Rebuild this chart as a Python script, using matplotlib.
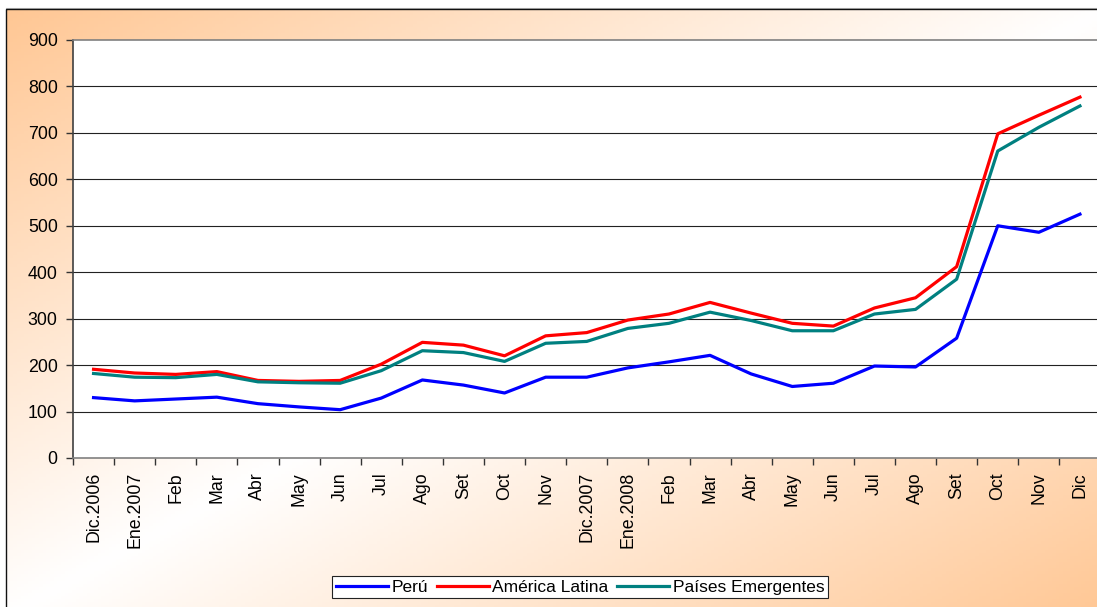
import numpy as np
import matplotlib.pyplot as plt
from matplotlib.patches import Rectangle

plt.rcParams['font.family'] = ['Liberation Sans', 'DejaVu Sans']

# data
meses = ['Dic.2006', 'Ene.2007', 'Feb', 'Mar', 'Abr', 'May', 'Jun', 'Jul', 'Ago', 'Set',
         'Oct', 'Nov', 'Dic.2007', 'Ene.2008', 'Feb', 'Mar', 'Abr', 'May', 'Jun', 'Jul',
         'Ago', 'Set', 'Oct', 'Nov', 'Dic']
peru = [130, 123, 127, 131, 117, 110, 104, 129, 168, 157, 140, 174, 174, 194, 207, 221,
        181, 154, 161, 198, 196, 258, 500, 486, 525]
america_latina = [191, 183, 180, 186, 167, 165, 167, 202, 249, 243, 220, 263, 270, 297, 310,
                  335, 312, 290, 284, 323, 345, 412, 698, 738, 777]
emergentes = [182, 174, 173, 180, 164, 162, 161, 188, 231, 227, 208, 247, 251, 279, 290,
              314, 296, 274, 274, 310, 320, 385, 661, 712, 758]

W, H = 1097, 607
fig = plt.figure(figsize=(W / 100, H / 100), dpi=100)
fig.patch.set_facecolor('white')

# background gradient (orange corners top-left / bottom-right, white diagonal)
bg = fig.add_axes([0, 0, 1, 1])
bg.set_xlim(0, W)
bg.set_ylim(H, 0)
bg.axis('off')
xx, yy = np.meshgrid(np.linspace(0, 1, 300), np.linspace(0, 1, 200))
t = np.abs((xx + yy) - 1.0)
orange = np.array([1.0, 0.78, 0.58])
white = np.array([1.0, 1.0, 1.0])
img = white + (orange - white) * t[..., None] ** 1.0
bg.imshow(img, extent=[6, W + 10, H + 10, 9], aspect='auto', zorder=0)
bg.add_patch(Rectangle((6, 9), W + 20, H + 20, fill=False, edgecolor='#111111', lw=1.0, zorder=2))
bg.plot([6, W], [8, 8], color='#bbbbbb', lw=0.8, zorder=1)

# main plot area
x0, x1, y0, y1 = 73, 1100.5, 40, 458
ax = fig.add_axes([x0 / W, 1 - y1 / H, (x1 - x0) / W, (y1 - y0) / H])
ax.set_facecolor('white')
x = np.arange(len(meses))
ax.plot(x, peru, color='#0000ff', lw=2.3, label='Perú', solid_joinstyle='round')
ax.plot(x, america_latina, color='#ff0000', lw=2.3, label='América Latina', solid_joinstyle='round')
ax.plot(x, emergentes, color='#008080', lw=2.3, label='Países Emergentes', solid_joinstyle='round')
ax.set_xlim(-0.5, len(meses) - 0.5)
ax.set_ylim(0, 900)
ax.set_yticks(np.arange(0, 901, 100))
for v in range(100, 900, 100):
    ax.axhline(v, color='#222222', lw=0.8, zorder=0)
ax.set_xticks(x)
ax.set_xticklabels(meses, rotation=90, fontsize=12.8)
ax.set_xticks(np.arange(-0.5, len(meses), 1), minor=True)
ax.tick_params(axis='x', which='major', length=0, pad=10)
ax.tick_params(axis='x', which='minor', length=5, color='#333333', width=1)
ax.tick_params(axis='y', length=5, color='#333333', width=1, pad=6, labelsize=12.8)
ax.spines['left'].set_color('#404040')
ax.spines['left'].set_linewidth(1.2)
ax.spines['bottom'].set_color('#808080')
ax.spines['bottom'].set_linewidth(1.2)
ax.spines['top'].set_color('#808080')
ax.spines['top'].set_linewidth(1.2)
ax.spines['right'].set_visible(False)

leg = fig.legend(loc='center', bbox_to_anchor=(580 / W, 1 - 587 / H), ncol=3, fontsize=12.5,
                 frameon=True, fancybox=False, edgecolor='#222222', framealpha=1,
                 handlelength=3.0, handletextpad=0.2, columnspacing=0.5, borderpad=0.2,
                 borderaxespad=0)
leg.get_frame().set_linewidth(0.8)

fig.savefig('out.png', dpi=100)
